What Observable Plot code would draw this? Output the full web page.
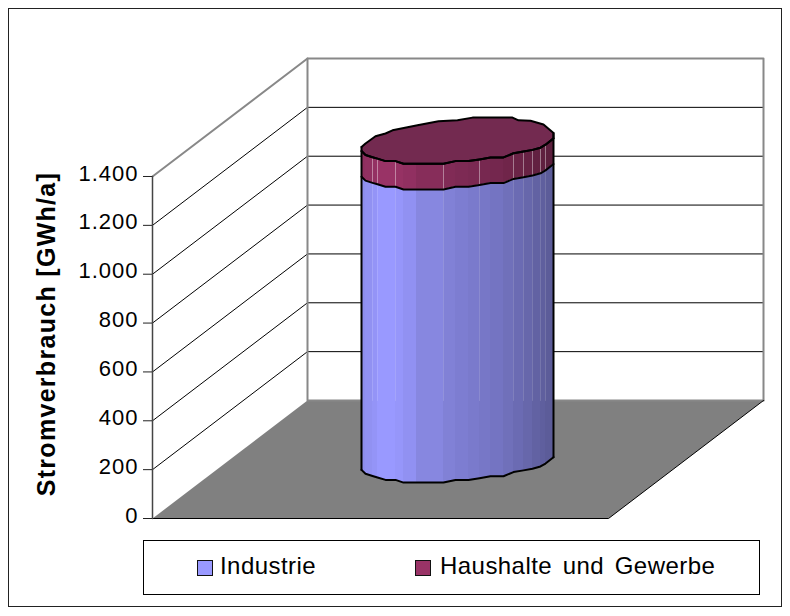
<!DOCTYPE html>
<html><head><meta charset="utf-8">
<script src="https://cdn.jsdelivr.net/npm/d3@7"></script>
<script src="https://cdn.jsdelivr.net/npm/@observablehq/plot@0.6"></script>
<style>
html,body{margin:0;padding:0;background:#fff;}
#chart{position:relative;width:790px;height:616px;overflow:hidden;font-family:"Liberation Sans",Arial,sans-serif;color:#000;}
#rahmen{position:absolute;left:8px;top:8px;width:772px;height:597px;border:1.5px solid #222;pointer-events:none;}
#chart svg{position:absolute;left:0;top:0;}
#legende{position:absolute;left:143px;top:540px;width:615px;height:53px;border:1px solid #000;font-size:24px;letter-spacing:.45px;word-spacing:3.5px;}
#legende span{position:absolute;white-space:nowrap;top:11px;}
#legende i{position:absolute;top:19px;width:14px;height:14px;border:1.5px solid #111;}
</style></head><body>
<div id="chart"><div id="rahmen"></div>
<div id="legende"></div></div>
<script>
const ticks = [0, 200, 400, 600, 800, 1000, 1200, 1400];
const seriesNames = ["Industrie", "Haushalte und Gewerbe"];
const seriesValues = [1200, 105];
const seriesColors = ["#9999ff", "#993366"];
const axisTitle = "Stromverbrauch [GWh/a]";

// Raum: Breite entlang der Kategorieachse, Tiefe als Versatz (Breite, GWh-Äquivalent)
const floorWidth = 456, depthAcross = 155, depthRise = 483;

// Grundriss des Zylinders: Rückseite, Vorderseite (gelesen aus dem Bild)
const backAcross = [209, 213, 223, 233, 240, 265, 286, 305, 320, 360, 366, 378, 391, 401];
const backRise   = [216, 230, 260, 271, 284, 305, 321, 325, 336, 336, 325, 323, 308, 273];
const frontAcross = [209, 213, 220, 225, 233, 243, 251, 264, 291, 303, 316, 327, 338, 351, 361, 371, 380, 388, 393, 401];
const frontRise   = [199, 183, 174, 168, 158, 158, 147, 147, 147, 158, 158, 165, 173, 173, 190, 197, 204, 213, 225, 251];
const frontShade  = [.93, .95, .97, 1, 1, .98, .95, .88, .84, .82, .80, .78, .76, .73, .70, .67, .64, .62, .60];
const seamAcross  = [220, 225, 243, 291, 327, 361, 371, 380, 388, 393];

const fmt = d3.formatLocale({decimal: ",", thousands: ".", grouping: [3], currency: ["", ""]}).format(",");
const shade = (c, k) => { const r = d3.rgb(c); return d3.rgb(r.r * k, r.g * k, r.b * k).formatHex(); };

const topV = ticks[ticks.length - 1];
const floor = [
  {x: 0, y: 0}, {x: floorWidth, y: 0},
  {x: floorWidth + depthAcross, y: depthRise}, {x: depthAcross, y: depthRise}
];
const grid = ticks.filter(t => t > 0 && t < topV);
const backGrid = grid.map(t => [{t, x: depthAcross, y: t + depthRise}, {t, x: floorWidth + depthAcross, y: t + depthRise}]).flat();
const sideGrid = grid.map(t => [{t, x: 0, y: t}, {t, x: depthAcross, y: t + depthRise}]).flat();
const greyEdges = [
  {k: 1, x: 0, y: topV}, {k: 1, x: depthAcross, y: topV + depthRise}, {k: 1, x: floorWidth + depthAcross, y: topV + depthRise}, {k: 1, x: floorWidth + depthAcross, y: depthRise},
  {k: 2, x: depthAcross, y: topV + depthRise}, {k: 2, x: depthAcross, y: depthRise}, {k: 2, x: floorWidth + depthAcross, y: depthRise}
];
const blackEdges = [{x: 0, y: 0}, {x: floorWidth, y: 0}, {x: floorWidth + depthAcross, y: depthRise}];
const axisLine = [{x: 0, y: 0}, {x: 0, y: topV}];

// Zylinderteile
const total = seriesValues[0] + seriesValues[1];
const facets = [];
frontShade.forEach((s, i) => {
  let lo = 0;
  seriesValues.forEach((v, j) => {
    const fill = shade(seriesColors[j], s);
    for (const k of [i, i + 1]) facets.push({id: i + "-" + j, x: frontAcross[k], y1: frontRise[k] + lo, y2: frontRise[k] + lo + v, fill});
    lo += v;
  });
});
const ring = v => frontAcross.map((x, i) => ({x, y: frontRise[i] + v}));
const capPts = [
  ...backAcross.map((x, i) => ({x, y: backRise[i] + total})),
  ...frontAcross.slice().reverse().map((x, k) => ({x, y: frontRise[frontRise.length - 1 - k] + total}))
];
const sideL = [{x: frontAcross[0], y: frontRise[0]}, {x: backAcross[0], y: backRise[0] + total}];
const last = frontAcross.length - 1;
const sideR = [{x: frontAcross[last], y: frontRise[last]}, {x: frontAcross[last], y: backRise[backRise.length - 1] + total}];
const outline = {stroke: "#000", strokeWidth: 2, strokeLinejoin: "round"};
const seamsFor = (base, v1, v2) => seamAcross.flatMap(x => {
  const r = frontRise[frontAcross.indexOf(x)];
  return [{x, y: Math.max(r + v1, base), s: x}, {x, y: r + v2, s: x}];
});

const plot = Plot.plot({
  width: 790, height: 530,
  marginLeft: 152, marginRight: 27, marginTop: 58, marginBottom: 12,
  x: {domain: [0, floorWidth + depthAcross], axis: null},
  y: {domain: [0, topV + depthRise], axis: null},
  color: {type: "identity"},
  style: {fontFamily: '"Liberation Sans", Arial, sans-serif', fontSize: "22px", background: "transparent", overflow: "visible"},
  marks: [
    Plot.line(floor, {x: "x", y: "y", fill: "#808080", stroke: null}),
    Plot.line(backGrid, {x: "x", y: "y", z: "t", stroke: "#000", strokeWidth: 1}),
    Plot.line(sideGrid, {x: "x", y: "y", z: "t", stroke: "#000", strokeWidth: 1}),
    Plot.line(greyEdges, {x: "x", y: "y", z: "k", stroke: "#888", strokeWidth: 2}),
    Plot.line(blackEdges, {x: "x", y: "y", stroke: "#000", strokeWidth: 1}),
    Plot.line(axisLine, {x: "x", y: "y", stroke: "#444", strokeWidth: 1.5}),
    Plot.axisY({ticks, tickFormat: () => "", tickSize: 9, label: null, anchor: "left", stroke: "#222"}),
    Plot.axisY({ticks, tickFormat: fmt, tickSize: 0, tickPadding: 14, label: null, anchor: "left", fill: "#000", dy: -3}),
    Plot.text([axisTitle], {x: () => 0, y: () => 755, dx: -106, rotate: -90, text: d => d, fontWeight: "bold", fontSize: 25, fill: "#000"}),
    Plot.areaY(facets, {x: "x", y1: "y1", y2: "y2", z: "id", fill: "fill", curve: "linear"}),
    Plot.line(seamsFor(depthRise, 0, seriesValues[0]), {x: "x", y: "y", z: "s", stroke: "#fff", strokeOpacity: 0.14, strokeWidth: 1}),
    Plot.line(seamsFor(0, seriesValues[0], total), {x: "x", y: "y", z: "s", stroke: "#fff", strokeOpacity: 0.4, strokeWidth: 1}),
    Plot.line(capPts, {x: "x", y: "y", fill: "#732a50", stroke: "#000", strokeWidth: 2, strokeLinejoin: "round"}),
    Plot.line(ring(0), {x: "x", y: "y", ...outline}),
    Plot.line(ring(seriesValues[0]), {x: "x", y: "y", ...outline}),
    Plot.line(ring(total), {x: "x", y: "y", ...outline}),
    Plot.line(sideL, {x: "x", y: "y", ...outline}),
    Plot.line(sideR, {x: "x", y: "y", ...outline})
  ]
});
d3.select(plot).selectAll('g[font-weight="bold"] text').style("letter-spacing", "1.3px");
d3.select(plot).selectAll('g[aria-label="y-axis tick label"] text').style("letter-spacing", "1px");
document.getElementById("chart").insertBefore(plot, document.getElementById("rahmen"));

const legende = document.getElementById("legende");
[[53, 76], [271, 296]].forEach(([sw, tx], i) => {
  const m = document.createElement("i");
  m.style.left = sw + "px"; m.style.background = seriesColors[i];
  const s = document.createElement("span");
  s.style.left = tx + "px"; s.textContent = seriesNames[i];
  legende.append(m, s);
});
</script></body></html>
